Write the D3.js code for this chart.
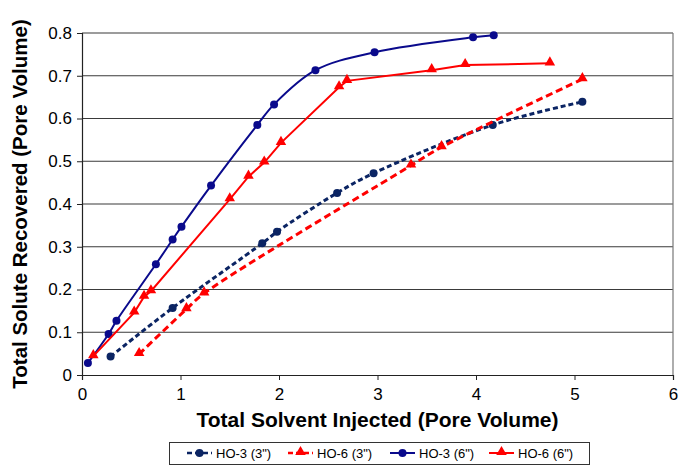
<!DOCTYPE html>
<html>
<head>
<meta charset="utf-8">
<script src="https://cdn.jsdelivr.net/npm/d3@7"></script>
<style>
  body { margin: 0; background: #fff; }
  svg { font-family: "Liberation Sans", Arial, sans-serif; }
</style>
</head>
<body>
<div id="container"></div>
<script>
// data
var ho3_3in = [[0.29,0.043],[0.92,0.157],[1.83,0.308],[1.98,0.335],[2.59,0.426],[2.96,0.472],[4.17,0.585],[5.08,0.639]];
var ho6_3in = [[0.58,0.049],[1.06,0.154],[1.24,0.191],[3.34,0.490],[3.65,0.533],[5.08,0.692]];
var ho3_6in = [[0.06,0.028],[0.27,0.096],[0.35,0.127],[0.75,0.259],[0.92,0.317],[1.01,0.347],[1.31,0.443],[1.78,0.585],[1.95,0.633],[2.37,0.713],[2.97,0.755],[3.97,0.790],[4.18,0.795]];
var ho6_6in = [[0.115,0.044],[0.53,0.146],[0.63,0.183],[0.70,0.196],[1.50,0.411],[1.69,0.464],[1.85,0.497],[2.02,0.543],[2.61,0.673],[2.69,0.688],[3.55,0.713],[3.89,0.725],[4.75,0.729]];

var seriesNames = ['HO-3 (3")', 'HO-6 (3")', 'HO-3 (6")', 'HO-6 (6")'];
var xTicks = [0, 1, 2, 3, 4, 5, 6];
var yTicks = [0, 0.1, 0.2, 0.3, 0.4, 0.5, 0.6, 0.7, 0.8];

var series = [
    {name: seriesNames[0], data: ho3_3in, color: "#0b2463", dash: "5,3", marker: "circle", smooth: true},
    {name: seriesNames[1], data: ho6_3in, color: "#ff0000", dash: "7,4", marker: "triangle", smooth: true},
    {name: seriesNames[2], data: ho3_6in, color: "#0a0a8c", dash: null, marker: "circle", smooth: true},
    {name: seriesNames[3], data: ho6_6in, color: "#ff0000", dash: null, marker: "triangle", smooth: false}
];

var width = 694, height = 465;
var margin = {left: 82, top: 33, right: 21, bottom: 90};

var svg = d3.select("#container").append("svg")
    .attr("width", width)
    .attr("height", height);

var x = d3.scaleLinear().domain([0, 6]).range([margin.left, width - margin.right]);
var y = d3.scaleLinear().domain([0, 0.8]).range([height - margin.bottom, margin.top]);

// gridlines
svg.append("g")
    .selectAll("line")
    .data(yTicks.slice(1))
    .join("line")
    .attr("x1", x(0)).attr("x2", x(6))
    .attr("y1", d => y(d)).attr("y2", d => y(d))
    .attr("stroke", "#3a3a3a")
    .attr("stroke-width", 1.2);

// right border
svg.append("line")
    .attr("x1", x(6)).attr("x2", x(6))
    .attr("y1", y(0.8)).attr("y2", y(0))
    .attr("stroke", "#777").attr("stroke-width", 1.2);

var xAxis = svg.append("g")
    .attr("transform", "translate(0," + y(0) + ")")
    .call(d3.axisBottom(x).tickValues(xTicks).tickFormat(d3.format("d")).tickSize(5).tickPadding(8));

var yAxis = svg.append("g")
    .attr("transform", "translate(" + x(0) + ",0)")
    .call(d3.axisLeft(y).tickValues(yTicks).tickFormat(d => d === 0 ? "0" : d3.format(".1f")(d)).tickSize(5).tickPadding(5));

svg.selectAll(".domain").attr("stroke", "#222").attr("stroke-width", 1.2);
svg.selectAll(".tick line").attr("stroke", "#222");
svg.selectAll(".tick text").attr("font-size", 17).attr("fill", "#000")
    .attr("font-family", "'Liberation Sans', Arial, sans-serif");

// axis titles
svg.append("text")
    .attr("x", (x(0) + x(6)) / 2)
    .attr("y", 427)
    .attr("text-anchor", "middle")
    .attr("font-size", 21)
    .attr("font-weight", "bold")
    .text("Total Solvent Injected (Pore Volume)");

svg.append("text")
    .attr("transform", "translate(27," + ((y(0) + y(0.8)) / 2) + ") rotate(-90)")
    .attr("text-anchor", "middle")
    .attr("font-size", 20.5)
    .attr("font-weight", "bold")
    .text("Total Solute Recovered (Pore Volume)");

function addMarker(g, mk, col, px, py) {
    if (mk === "circle") {
        g.append("circle").attr("cx", px).attr("cy", py).attr("r", 4).attr("fill", col);
    } else {
        g.append("path")
            .attr("d", d3.symbol().type(d3.symbolTriangle).size(48)())
            .attr("transform", "translate(" + px + "," + (py - 1) + ")")
            .attr("fill", col);
    }
}

series.forEach(function(s) {
    var line = d3.line()
        .curve(s.smooth ? d3.curveCatmullRom.alpha(0.5) : d3.curveLinear)
        .x(d => x(d[0]))
        .y(d => y(d[1]));
    svg.append("path")
        .datum(s.data)
        .attr("d", line)
        .attr("fill", "none")
        .attr("stroke", s.color)
        .attr("stroke-width", s.dash ? 3 : 2)
        .attr("stroke-dasharray", s.dash);
    var g = svg.append("g");
    s.data.forEach(d => addMarker(g, s.marker, s.color, x(d[0]), y(d[1])));
});

// legend
var legend = svg.append("g");
legend.append("rect")
    .attr("x", 169.5).attr("y", 442.5)
    .attr("width", 420).attr("height", 22)
    .attr("fill", "#fff")
    .attr("stroke", "#333");

var legX = [187, 288, 390, 489];
series.forEach(function(s, i) {
    var lg = legend.append("g");
    lg.append("line")
        .attr("x1", legX[i]).attr("x2", legX[i] + 25)
        .attr("y1", 453).attr("y2", 453)
        .attr("stroke", s.color)
        .attr("stroke-width", s.dash ? 2.5 : 2)
        .attr("stroke-dasharray", s.dash ? "5,3" : null);
    addMarker(lg, s.marker, s.color, legX[i] + 12.5, 453);
    lg.append("text")
        .attr("x", legX[i] + 29)
        .attr("y", 457.5)
        .attr("font-size", 13)
        .text(s.name);
});
</script>
</body>
</html>
